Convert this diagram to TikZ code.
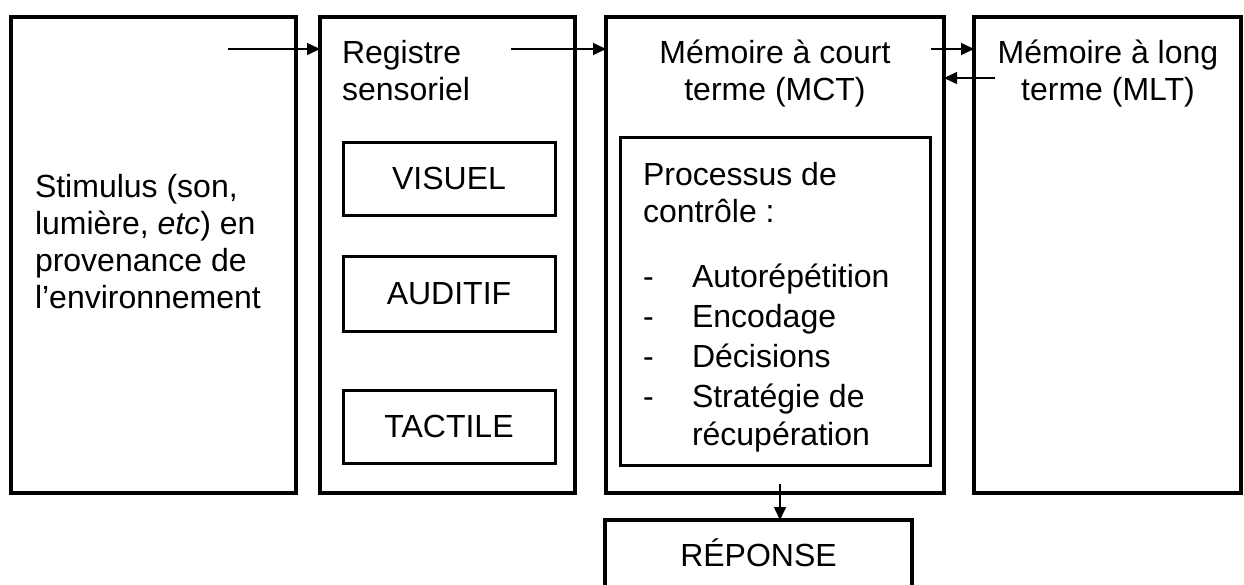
\documentclass[tikz,border=0pt]{standalone}
\usepackage{fontspec}
\setmainfont{Liberation Sans}
\usetikzlibrary{arrows.meta}

\begin{document}
\begin{tikzpicture}[x=1pt,y=-1pt]
                \tikzstyle{every node}+=[inner sep=0pt, outer sep=0pt, font=\fontsize{32}{37}\selectfont]
                \tikzstyle{bigbox}=[draw=black, line width=3.5pt, anchor=north west]
                \tikzstyle{smallbox}=[draw=black, line width=3pt, anchor=north west]
                \tikzstyle{flow}=[black, line width=1.5pt, -{Triangle[length=13pt,width=12pt]}]
                \useasboundingbox (0,0) rectangle (1244,584);
                \clip (0,0) rectangle (1244,584);
                \node [bigbox, minimum width=285pt, minimum height=476pt] (stim) at (11,17) {};
                \node [bigbox, minimum width=255pt, minimum height=476pt] (reg) at (320,17) {};
                \node [bigbox, minimum width=338pt, minimum height=476pt] (mct) at (606,17) {};
                \node [bigbox, minimum width=267pt, minimum height=476pt] (mlt) at (974,17) {};
                \node [bigbox, minimum width=307pt, minimum height=120pt] (rep) at (605,520) {};
                \node [smallbox, minimum width=212pt, minimum height=73pt] (vis) at (343,142) {VISUEL};
                \node [smallbox, minimum width=212pt, minimum height=75pt] (aud) at (343,256) {AUDITIF};
                \node [smallbox, minimum width=212pt, minimum height=73pt] (tac) at (343,390) {TACTILE};
                \node [smallbox, minimum width=310pt, minimum height=328pt] (proc) at (620,137) {};
                \node [anchor=base west, align=left] (stimtxt) at (35,308)
                    {Stimulus (son,\\lumière, \textit{etc}) en\\provenance de\\l’environnement};
                \node [anchor=base west, align=left] (regtxt) at (342,100) {Registre\\sensoriel};
                \node [anchor=base, align=center] (mcttxt) at (775,100) {Mémoire à court\\terme (MCT)};
                \node [anchor=base, align=center] (mlttxt) at (1108,100) {Mémoire à long\\terme (MLT)};
                \node [anchor=base west, align=left] (proctxt) at (643,445)
                    {Processus de\\contrôle :\\[28pt]
                     \makebox[49pt][l]{-}Autorépétition\\[3pt]
                     \makebox[49pt][l]{-}Encodage\\[3pt]
                     \makebox[49pt][l]{-}Décisions\\[3pt]
                     \makebox[49pt][l]{-}Stratégie de\\[1pt]
                     \hspace*{49pt}récupération};
                \node [anchor=base] (reptxt) at (rep.north |- 0,566) {RÉPONSE};
                \coordinate (a1) at (228,49);
                \coordinate (a2) at (511,49);
                \coordinate (a3) at (931,49);
                \coordinate (a4) at (995,78);
                \coordinate (a5) at (780,484);
                \draw [flow] (a1) -- (reg.west |- a1);
                \draw [flow] (a2) -- (mct.west |- a2);
                \draw [flow] (a3) -- (mlt.west |- a3);
                \draw [flow] (a4) -- (mct.east |- a4);
                \draw [flow] (a5) -- (a5 |- rep.north);
            \end{tikzpicture}
\end{document}
